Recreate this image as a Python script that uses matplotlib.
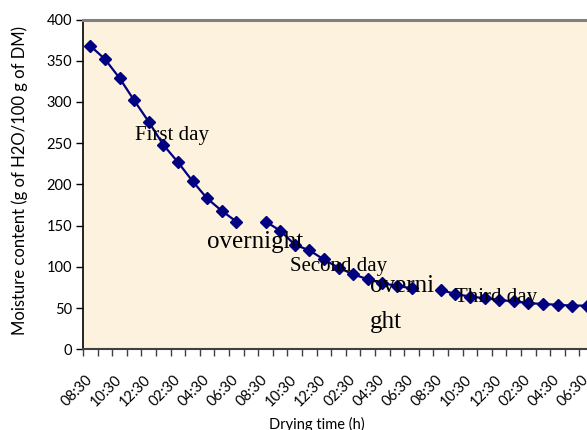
import numpy as np
import matplotlib
matplotlib.use("Agg")
import matplotlib.pyplot as plt

# ---- data ----
day1 = [368, 352, 329, 302, 276, 248, 227, 204, 183, 168, 155]
day2 = [155, 144, 127, 120, 109, 99, 91, 85, 80, 77, 74]
day3 = [72, 67, 64, 62, 60, 58, 56, 55, 54, 53, 53]
tick_labels = ["08:30", "10:30", "12:30", "02:30", "04:30", "06:30"] * 3
y_ticks = [0, 50, 100, 150, 200, 250, 300, 350, 400]

# build series with a blank category for each overnight gap
values = day1 + [np.nan] + day2 + [np.nan] + day3
x = np.arange(len(values))

W, H = 587, 430
fig = plt.figure(figsize=(W / 100, H / 100), dpi=100)
fig.patch.set_facecolor("white")

left, right_px, bottom_px, top_px = 83, 594, 349.3, 19.5
ax = fig.add_axes([left / W, (H - bottom_px) / H, (right_px - left) / W, (bottom_px - top_px) / H])
ax.set_facecolor("#FCF2DD")

ax.plot(x, values, color="#000080", lw=1.6, marker="D", ms=6.5, mfc="#000080", mec="#000080")

ax.set_xlim(-0.5, len(values) - 0.5)
ax.set_ylim(0, 400)

ax.set_xticks(np.arange(-0.5, len(values) + 0.5, 1))
ax.set_xticklabels([])
ax.set_xticks(np.arange(0, len(values), 2), minor=True)
ax.set_xticklabels(tick_labels, minor=True, rotation=45, ha="right", va="center",
                   rotation_mode="anchor", fontsize=10.5, family="Lato")
ax.tick_params(axis="x", which="major", direction="out", length=5, width=1, color="#404040")
ax.tick_params(axis="x", which="minor", length=0, pad=20)

ax.set_yticks(y_ticks)
ax.set_yticklabels([str(v) for v in y_ticks], fontsize=10.5, family="Lato")
ax.tick_params(axis="y", direction="out", length=5, width=1, color="black", pad=3)

ax.spines["top"].set_color("#808080")
ax.spines["top"].set_linewidth(2.2)
ax.spines["right"].set_visible(False)
ax.spines["left"].set_color("black")
ax.spines["left"].set_linewidth(1.2)
ax.spines["bottom"].set_color("#404040")
ax.spines["bottom"].set_linewidth(1.5)

serif = "Liberation Serif"
ax.text(3.06, 254, "First day", family=serif, fontsize=15, va="baseline", ha="left")
ax.text(8.0, 123, "overnight", family=serif, fontsize=18, va="baseline", ha="left")
ax.text(13.68, 95.5, "Second day", family=serif, fontsize=15, va="baseline", ha="left")
ax.text(19.16, 70, "overni", family=serif, fontsize=18, va="baseline", ha="left")
ax.text(19.16, 26, "ght", family=serif, fontsize=18, va="baseline", ha="left")
ax.text(24.98, 57.8, "Third day", family=serif, fontsize=15, va="baseline", ha="left")

fig.text(20 / W, (H - 180.5) / H, "Moisture content (g of H2O/100 g of DM)", rotation=90,
         ha="center", va="center", fontsize=12, family="Lato")
fig.text(317 / W, 6 / H, "Drying time (h)", ha="center", va="center", fontsize=10.5, family="Lato")

fig.savefig("out.png", dpi=100, facecolor="white")
